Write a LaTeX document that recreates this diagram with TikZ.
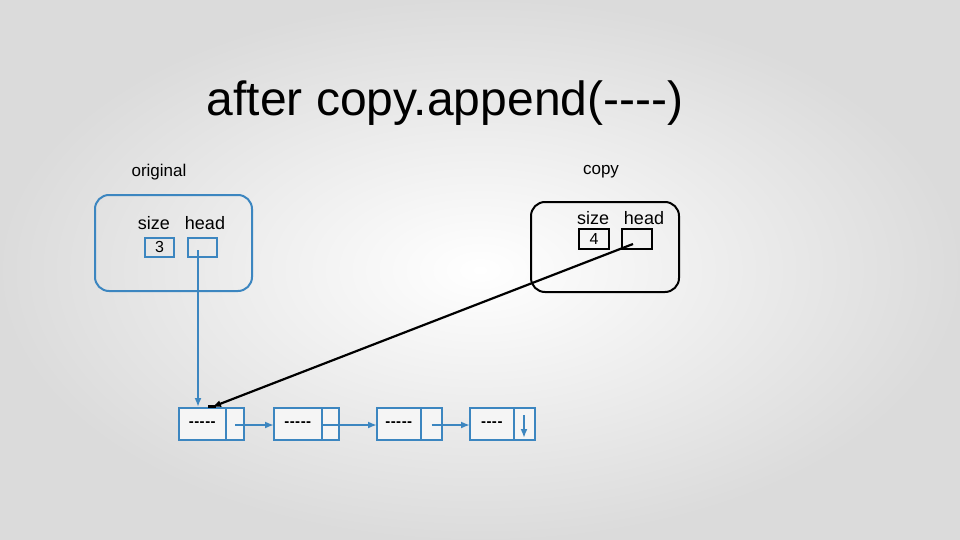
\documentclass[tikz,border=0pt]{standalone}
\usepackage{fontspec}
\setmainfont{Liberation Sans}[Ligatures=NoCommon]
\usetikzlibrary{arrows.meta}
\newcommand{\dsh}[1]{\foreach \i in {1,...,#1}{-\kern0.5pt}}
\begin{document}
\begin{tikzpicture}[x=1pt,y=-1pt,
  bl/.style={draw=blueL,line width=2pt},
  cell/.style={draw=blueL,line width=2pt,fill=white!92!gray},
  lab/.style={font=\fontsize{18}{18}\selectfont,inner sep=0pt},
  arr/.style={-{Latex[length=9pt,width=7pt]}}]
\definecolor{blueL}{HTML}{3C86C0}
\shade[inner color=white,outer color=gray!28] (0,0) rectangle (960,540);
\useasboundingbox (0,0) rectangle (960,540);
\node[font=\fontsize{48}{48}\selectfont] (title) at (445,103) {after copy.append(-{}-{}-{}-)};
\node[font=\fontsize{17}{17}\selectfont] (lorig) at (159,172) {original};
\node[font=\fontsize{17}{17}\selectfont] (lcopy) at (601,172) {copy};
% left object
\draw[bl,rounded corners=14pt] (95,195) rectangle (252,291);
\node[lab] (s1) at (154,223) {size};
\node[lab] (h1) at (205,223) {head};
\draw[bl] (145,238) rectangle (174,257);
\node[font=\fontsize{16}{16}\selectfont] (v1) at (159.5,247) {3};
\draw[bl] (188,238) rectangle (217,257);
\coordinate (p1) at (198,250);
% right object
\draw[black,line width=2pt,rounded corners=14pt] (531,202) rectangle (679,292);
\node[lab] (s2) at (593,218) {size};
\node[lab] (h2) at (644,218) {head};
\draw[black,line width=1.8pt] (579,229) rectangle (609,249);
\node[font=\fontsize{16}{16}\selectfont] (v2) at (594,238.5) {4};
\draw[black,line width=1.8pt] (622,229) rectangle (652,249);
\coordinate (p2) at (633,244);
% list nodes
\foreach \n/\a/\d/\b/\t in {n1/179/226/244/5, n2/274/322/339/5, n3/377/421/442/5, n4/470/514/535/4}{
  \draw[cell] (\a,408) rectangle (\b,440);
  \draw[blueL,line width=1.3pt] (\d,408) -- (\d,440);
  \node[font=\fontsize{15}{15}\selectfont\bfseries] (\n) at ({(\a+\d)/2},424) {\dsh{\t}};
  \coordinate (\n L) at (\a,425);
  \coordinate (\n P) at ({(\d+\b)/2},425);
}
\draw[bl,arr] (p1) -- (198,407);
\draw[bl,arr,line width=2pt] (n1P) -- (n2L);
\draw[bl,arr,line width=2pt] (322,425) -- (n3L);
\draw[bl,arr,line width=2pt] (n3P) -- (n4L);
\draw[bl,arr] (524,415) -- (524,438);
\draw[black,line width=2.2pt,arr] (p2) -- (212,407);
\draw[black,line width=3pt] (208,406) -- (216,406);
\end{tikzpicture}
\end{document}
